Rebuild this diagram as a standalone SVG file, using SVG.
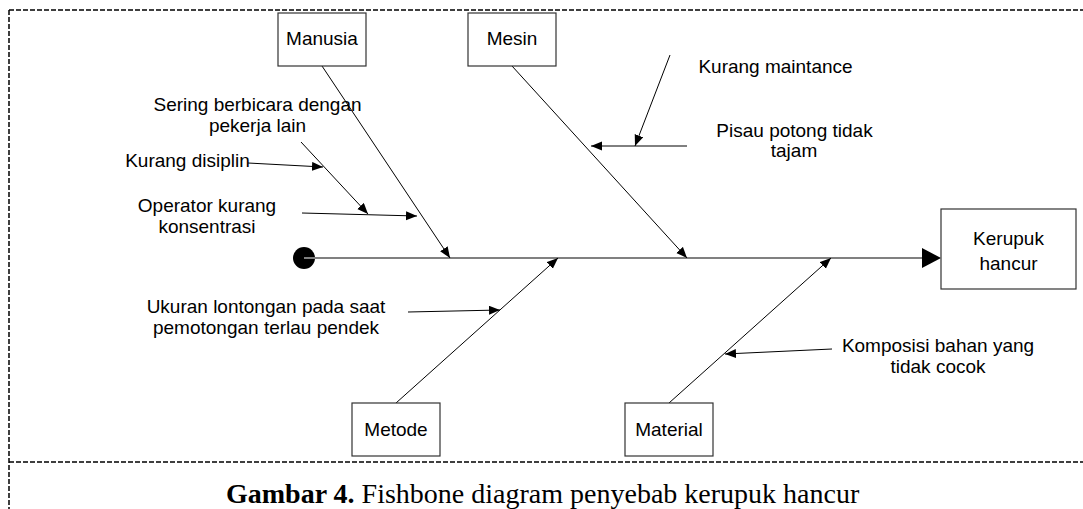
<svg xmlns="http://www.w3.org/2000/svg" width="1083" height="509" viewBox="0 0 1083 509">
  <style>
    .frame { fill: none; stroke: #000; stroke-width: 1.5; stroke-dasharray: 5 2; }
    .box { fill: #fff; stroke: #333; stroke-width: 1.2; }
    .bone { fill: none; stroke: #000; stroke-width: 1; marker-end: url(#tip); }
    .spine { fill: none; stroke: #808080; stroke-width: 2; }
    .lbl { font-family: "Liberation Sans", Arial, sans-serif; font-size: 19px; fill: #000; text-anchor: middle; }
    .cap { font-family: "Liberation Serif", "Times New Roman", serif; font-size: 28px; fill: #000; }
  </style>
  <defs>
    <marker id="tip" markerUnits="userSpaceOnUse" markerWidth="12" markerHeight="10" refX="11" refY="4.5" orient="auto">
      <path d="M0,0 L11,4.5 L0,9 z" fill="#000"/>
    </marker>
  </defs>

  <rect width="1083" height="509" fill="#fff"/>

  <!-- figure frame -->
  <g id="frame">
    <line class="frame" x1="9" y1="10" x2="1083" y2="10"/>
    <line class="frame" x1="9" y1="10" x2="9" y2="509"/>
    <line class="frame" x1="9" y1="462" x2="1083" y2="462"/>
  </g>

  <!-- spine with head -->
  <g id="spine">
    <circle cx="304" cy="258" r="11" fill="#000"/>
    <line class="spine" x1="304" y1="258" x2="924" y2="258"/>
    <polygon points="922,248 941,258 922,268" fill="#000"/>
  </g>

  <!-- bones and cause arrows -->
  <g id="connectors">
    <line class="bone" x1="322" y1="66" x2="450" y2="258"/>
    <line class="bone" x1="512" y1="66" x2="687" y2="258"/>
    <line class="bone" x1="396" y1="403" x2="558" y2="258"/>
    <line class="bone" x1="669" y1="403" x2="831" y2="258"/>
    <line class="bone" x1="301" y1="142" x2="368" y2="214"/>
    <line class="bone" x1="248" y1="163" x2="323" y2="167"/>
    <line class="bone" x1="302" y1="213" x2="417" y2="216"/>
    <line class="bone" x1="670" y1="55" x2="635" y2="146"/>
    <line class="bone" x1="687" y1="146" x2="591" y2="146"/>
    <line class="bone" x1="408" y1="312" x2="500" y2="310"/>
    <line class="bone" x1="832" y1="349" x2="725" y2="354"/>
  </g>

  <!-- category boxes -->
  <g id="manusia">
    <rect class="box" x="278" y="13" width="88" height="53"/>
    <text class="lbl" x="322" y="45">Manusia</text>
  </g>
  <g id="mesin">
    <rect class="box" x="468" y="13" width="88" height="53"/>
    <text class="lbl" x="512" y="45">Mesin</text>
  </g>
  <g id="metode">
    <rect class="box" x="352" y="403" width="88" height="53"/>
    <text class="lbl" x="396" y="436">Metode</text>
  </g>
  <g id="material">
    <rect class="box" x="625" y="403" width="88" height="53"/>
    <text class="lbl" x="669" y="436">Material</text>
  </g>
  <g id="kerupuk-hancur">
    <rect class="box" x="941" y="209" width="135" height="80"/>
    <text class="lbl" x="1008.5" y="245">Kerupuk</text>
    <text class="lbl" x="1008.5" y="270">hancur</text>
  </g>

  <!-- cause labels -->
  <g id="sering">
    <text class="lbl" x="257.5" y="111">Sering berbicara dengan</text>
    <text class="lbl" x="257.5" y="132">pekerja lain</text>
  </g>
  <g id="disiplin">
    <text class="lbl" x="187.5" y="167">Kurang disiplin</text>
  </g>
  <g id="operator">
    <text class="lbl" x="207" y="212">Operator kurang</text>
    <text class="lbl" x="207" y="233">konsentrasi</text>
  </g>
  <g id="maintance">
    <text class="lbl" x="775.5" y="73">Kurang maintance</text>
  </g>
  <g id="pisau">
    <text class="lbl" x="794.5" y="137">Pisau potong tidak</text>
    <text class="lbl" x="794" y="157">tajam</text>
  </g>
  <g id="ukuran">
    <text class="lbl" x="266" y="313">Ukuran lontongan pada saat</text>
    <text class="lbl" x="266" y="334">pemotongan terlau pendek</text>
  </g>
  <g id="komposisi">
    <text class="lbl" x="938" y="352">Komposisi bahan yang</text>
    <text class="lbl" x="938" y="373">tidak cocok</text>
  </g>

  <!-- caption -->
  <text class="cap" x="226" y="503"><tspan font-weight="bold">Gambar 4.</tspan> Fishbone diagram penyebab kerupuk hancur</text>
</svg>
